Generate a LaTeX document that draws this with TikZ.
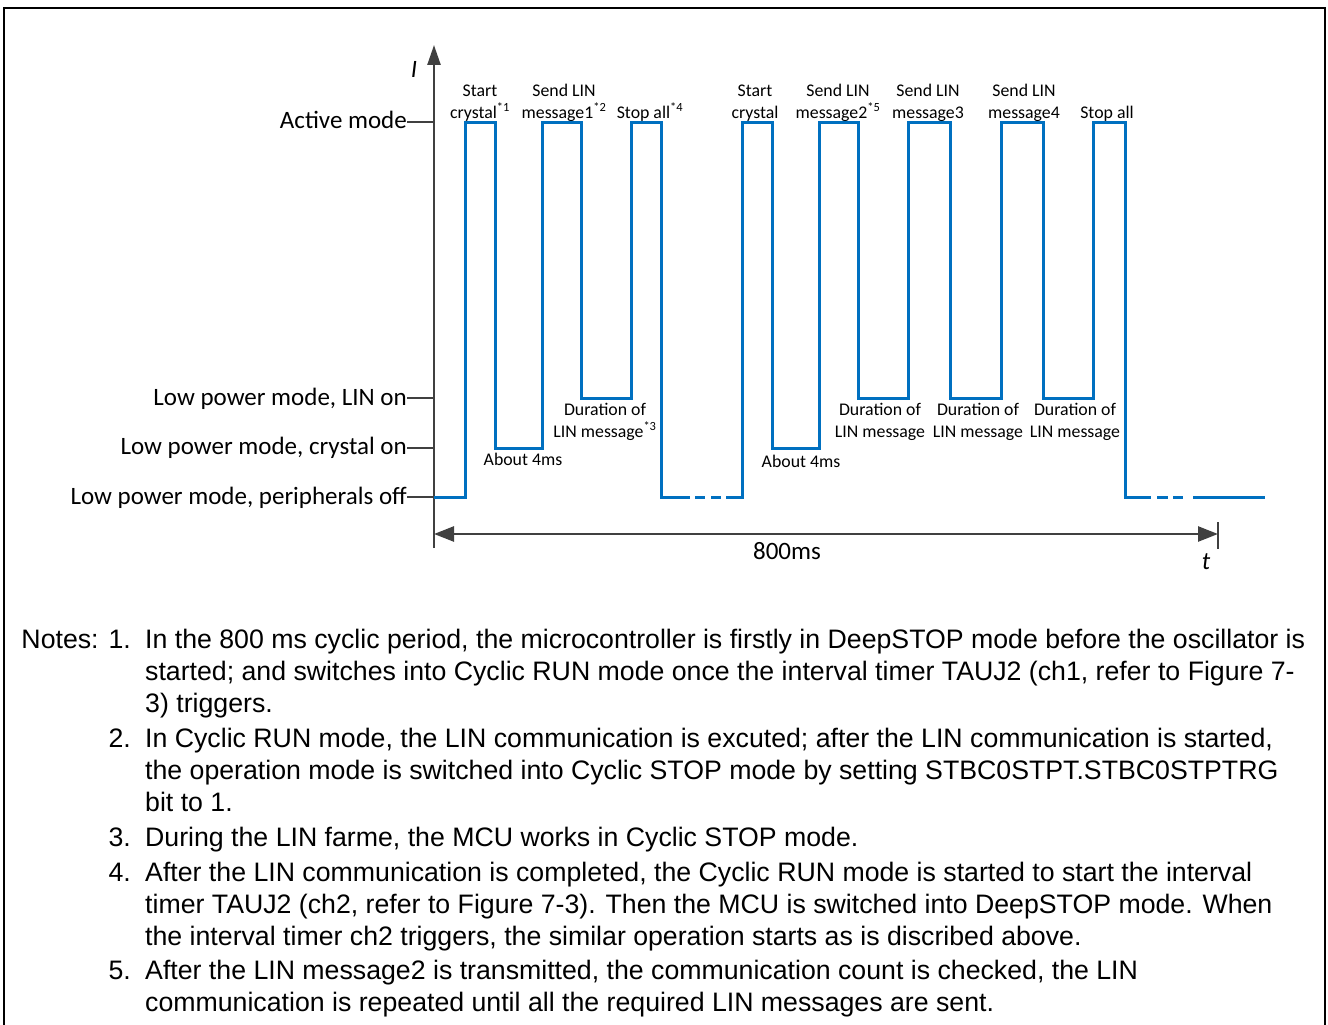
\documentclass[tikz,border=0pt]{standalone}
\usepackage{fontspec}
\setmainfont{Liberation Sans}
\newfontfamily\lblfont{Carlito}
\usetikzlibrary{arrows.meta}
\definecolor{waveblue}{RGB}{0,112,192}
\definecolor{axisgray}{RGB}{64,64,64}

\begin{document}
\begin{tikzpicture}[x=1pt,y=-1pt,
    wave/.style={waveblue, line width=3pt},
    axisline/.style={axisgray, line width=2.5pt},
    lvl/.style={anchor=east, inner sep=0pt, font=\lblfont\fontsize{25}{26}\selectfont},
    lbl/.style={anchor=base, align=center, inner sep=0pt, font=\lblfont\fontsize{17.8}{22}\selectfont},
    notenum/.style={anchor=base east, inner sep=0pt, font=\fontsize{26.7}{32}\selectfont},
    notetext/.style={anchor=base west, inner sep=0pt, align=left, font=\fontsize{26.7}{32}\selectfont}]
\useasboundingbox (0,0) rectangle (1328,1025);
% frame
\draw[line width=2pt] (4,1025) -- (4,8) -- (1325,8) -- (1325,1025);

% current axis and levels
\coordinate (origin) at (434,548);
\coordinate (itop) at (434,45);
\draw[axisline, -{Triangle[length=20pt,width=13pt]}] (origin) -- (itop);
\node[font=\lblfont\fontsize{25}{26}\selectfont\itshape] (ilabel) at (414,69) {I};

\node[lvl] (lvact) at (407,120) {Active mode};
\node[lvl] (lvlin) at (407,399) {Low power mode, LIN on};
\node[lvl] (lvxtal) at (407,448) {Low power mode, crystal on};
\node[lvl] (lvoff) at (407,498) {Low power mode, peripherals off};
\draw[axisline] (lvact.east |- 0,122) -- (434,122);
\draw[axisline] (lvlin.east |- 0,398) -- (434,398);
\draw[axisline] (lvxtal.east |- 0,448) -- (434,448);
\draw[axisline] (lvoff.east |- 0,497) -- (434,497);

% time span
\coordinate (tend) at (1218,534);
\draw[axisline, {Triangle[length=20pt,width=15pt]}-{Triangle[length=20pt,width=15pt]}] (origin |- tend) -- (tend);
\draw[axisline] (1218,522) -- (1218,549);
\node[font=\lblfont\fontsize{25}{26}\selectfont] (span) at (787,551) {800ms};
\node[font=\lblfont\fontsize{25}{26}\selectfont\itshape] (tlabel) at (1206,562) {t};

% current waveform
\draw[wave] (434,497) -- (465,497) -- (465,122) -- (495,122) -- (495,448) -- (542,448)
    -- (542,122) -- (581,122) -- (581,398) -- (631,398) -- (631,122) -- (661,122)
    -- (661,497) -- (690,497);
\draw[wave] (695,497) -- (705,497) (711,497) -- (721,497);
\draw[wave] (726,497) -- (742,497) -- (742,122) -- (772,122) -- (772,448) -- (819,448)
    -- (819,122) -- (858,122) -- (858,398) -- (908,398) -- (908,122) -- (950,122)
    -- (950,398) -- (1001,398) -- (1001,122) -- (1043,122) -- (1043,398) -- (1093,398)
    -- (1093,122) -- (1125,122) -- (1125,497) -- (1151,497);
\draw[wave] (1157,497) -- (1168,497) (1173,497) -- (1183,497);
\draw[wave] (1193,497) -- (1265,497);

% pulse labels
\node[lbl] (xtal1) at (480,118) {Start\\crystal\textsuperscript{*1}};
\node[lbl] (msg1) at (564,118) {Send LIN\\message1\textsuperscript{*2}};
\node[lbl] (stop1) at (650,118) {Stop all\textsuperscript{*4}};
\node[lbl] (xtal2) at (755,118) {Start\\crystal};
\node[lbl] (msg2) at (838,118) {Send LIN\\message2\textsuperscript{*5}};
\node[lbl] (msg3) at (928,118) {Send LIN\\message3};
\node[lbl] (msg4) at (1024,118) {Send LIN\\message4};
\node[lbl] (stop2) at (1107,118) {Stop all};

\node[lbl] (wait1) at (523,465) {About 4ms};
\node[lbl] (dur1) at (605,437) {Duration of\\LIN message\textsuperscript{*3}};
\node[lbl] (wait2) at (801,467) {About 4ms};
\node[lbl] (dur2) at (880,437) {Duration of\\LIN message};
\node[lbl] (dur3) at (978,437) {Duration of\\LIN message};
\node[lbl] (dur4) at (1075,437) {Duration of\\LIN message};

% notes
\node[notenum] (n1) at (131,648) {Notes: 1.};
\node[notetext] (t1) at (145,712) {In the 800 ms cyclic period, the microcontroller is firstly in DeepSTOP mode before the oscillator is\\
started; and switches into Cyclic RUN mode once the interval timer TAUJ2 (ch1, refer to Figure 7-\\
3) triggers.};
\node[notenum] (n2) at (131,747) {2.};
\node[notetext] (t2) at (145,811) {In Cyclic RUN mode, the LIN communication is excuted; after the LIN communication is started,\\
the operation mode is switched into Cyclic STOP mode by setting STBC0STPT.STBC0STPTRG\\
bit to 1.};
\node[notenum] (n3) at (131,846) {3.};
\node[notetext] (t3) at (145,846) {During the LIN farme, the MCU works in Cyclic STOP mode.};
\node[notenum] (n4) at (131,881) {4.};
\node[notetext] (t4) at (145,945) {After the LIN communication is completed, the Cyclic RUN mode is started to start the interval\\
timer TAUJ2 (ch2, refer to Figure 7-3). Then the MCU is switched into DeepSTOP mode. When\\
the interval timer ch2 triggers, the similar operation starts as is discribed above.};
\node[notenum] (n5) at (131,979) {5.};
\node[notetext] (t5) at (145,1011) {After the LIN message2 is transmitted, the communication count is checked, the LIN\\
communication is repeated until all the required LIN messages are sent.};
\end{tikzpicture}
\end{document}
